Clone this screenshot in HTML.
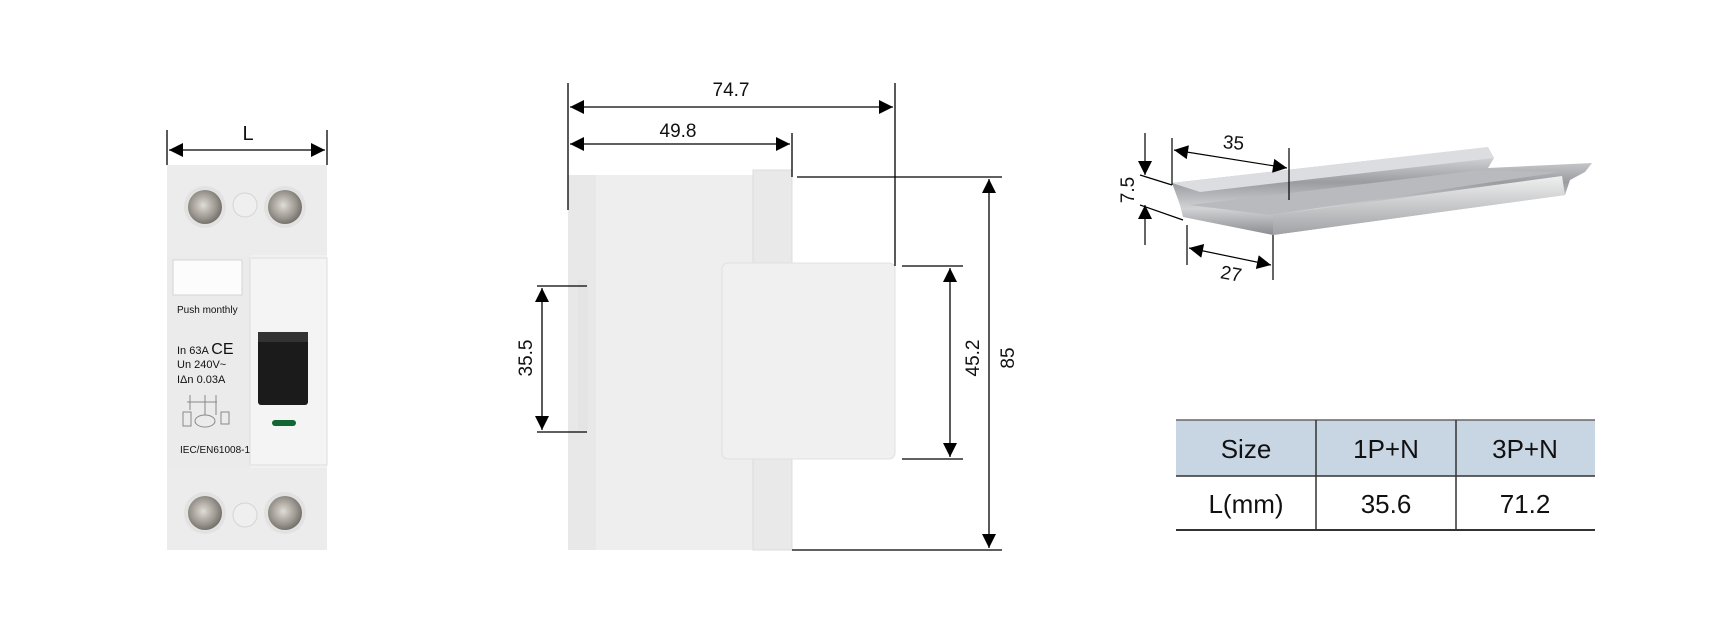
<!DOCTYPE html>
<html><head><meta charset="utf-8"><style>
html,body{margin:0;padding:0;background:#fff;}
svg{display:block;}
text{font-family:"Liberation Sans",Arial,sans-serif;fill:#111;}
</style></head><body>
<svg width="1736" height="633" viewBox="0 0 1736 633" xmlns="http://www.w3.org/2000/svg">
<defs>
<marker id="ar" viewBox="0 0 10 10" refX="10" refY="5" markerWidth="22" markerHeight="14" markerUnits="userSpaceOnUse" orient="auto-start-reverse"><path d="M0,0 L10,5 L0,10 z" fill="#000"/></marker>
<radialGradient id="scr" cx="0.45" cy="0.45" r="0.7"><stop offset="0" stop-color="#e0dcd6"/><stop offset="0.55" stop-color="#9a958e"/><stop offset="1" stop-color="#55524e"/></radialGradient>
<linearGradient id="silver" x1="0" y1="0" x2="0" y2="1"><stop offset="0" stop-color="#e8e8ea"/><stop offset="0.4" stop-color="#9a9ca0"/><stop offset="0.7" stop-color="#d0d2d4"/><stop offset="1" stop-color="#8a8c90"/></linearGradient>
<linearGradient id="silver2" x1="0" y1="0" x2="0" y2="1"><stop offset="0" stop-color="#f0f0f0"/><stop offset="0.5" stop-color="#c8c9cb"/><stop offset="1" stop-color="#a0a2a5"/></linearGradient>
</defs>

<!-- Breaker front -->
<g stroke="#000" stroke-width="1.3">
<line x1="167" y1="130" x2="167" y2="165"/><line x1="327" y1="130" x2="327" y2="165"/>
<line x1="169" y1="150" x2="325" y2="150" marker-start="url(#ar)" marker-end="url(#ar)"/>
</g>
<text x="248" y="140" font-size="20" text-anchor="middle">L</text>
<rect x="167" y="165" width="160" height="385" fill="#f1f1f1"/>
<rect x="167" y="165" width="160" height="90" fill="#ececec"/>
<rect x="167" y="468" width="160" height="82" fill="#ececec"/>
<rect x="167" y="255" width="83" height="213" fill="#ebebeb"/>
<rect x="250" y="258" width="77" height="207" fill="#f4f4f4" stroke="#dedede"/>
<rect x="173" y="260" width="69" height="35" fill="#fcfcfc" stroke="#d4d4d4"/>
<circle cx="205" cy="207" r="21" fill="#e2e2e2"/><circle cx="205" cy="207" r="17" fill="url(#scr)"/>
<circle cx="285" cy="207" r="21" fill="#e2e2e2"/><circle cx="285" cy="207" r="17" fill="url(#scr)"/>
<circle cx="245" cy="205" r="12" fill="#efefef" stroke="#d4d4d4"/>
<circle cx="205" cy="513" r="21" fill="#e2e2e2"/><circle cx="205" cy="513" r="17" fill="url(#scr)"/>
<circle cx="285" cy="513" r="21" fill="#e2e2e2"/><circle cx="285" cy="513" r="17" fill="url(#scr)"/>
<circle cx="245" cy="515" r="12" fill="#efefef" stroke="#d4d4d4"/>
<rect x="258" y="332" width="50" height="73" rx="3" fill="#1b1b1b"/>
<rect x="258" y="332" width="50" height="10" fill="#333"/>
<rect x="272" y="420" width="24" height="6" rx="3" fill="#163"/>
<text x="177" y="313" font-size="10" fill="#777">Push  monthly</text>
<text x="177" y="354" font-size="11" fill="#666">In 63A <tspan font-size="16">CE</tspan></text>
<text x="177" y="368" font-size="11" fill="#666">Un 240V~</text>
<text x="177" y="383" font-size="11" fill="#666">IΔn 0.03A</text>
<g stroke="#888" fill="none" stroke-width="1"><rect x="183" y="412" width="8" height="14"/><ellipse cx="205" cy="421" rx="10" ry="6"/><rect x="221" y="412" width="8" height="12"/><path d="M190,395 v15 M205,395 v20 M216,395 v20 M187,402 h30"/></g>
<text x="180" y="453" font-size="10" fill="#666">IEC/EN61008-1</text>

<!-- Side view -->
<rect x="568" y="175" width="224" height="375" fill="#eeeeee"/>
<rect x="568" y="175" width="28" height="375" fill="#e8e8e8"/>
<rect x="753" y="170" width="39" height="380" fill="#e9e9e9" stroke="#dcdcdc"/>
<rect x="722" y="263" width="173" height="196" rx="6" fill="#f0f0f0" stroke="#e0e0e0"/>
<rect x="578" y="280" width="10" height="150" fill="#e4e4e4"/>
<g stroke="#000" stroke-width="1.3">
<line x1="568" y1="83" x2="568" y2="210"/>
<line x1="792" y1="133" x2="792" y2="177"/>
<line x1="895" y1="83" x2="895" y2="266"/>
<line x1="570" y1="107" x2="893" y2="107" marker-start="url(#ar)" marker-end="url(#ar)"/>
<line x1="570" y1="144" x2="790" y2="144" marker-start="url(#ar)" marker-end="url(#ar)"/>
<line x1="797" y1="177" x2="1002" y2="177"/><line x1="792" y1="550" x2="1002" y2="550"/>
<line x1="989" y1="179" x2="989" y2="548" marker-start="url(#ar)" marker-end="url(#ar)"/>
<line x1="902" y1="266" x2="963" y2="266"/><line x1="902" y1="459" x2="963" y2="459"/>
<line x1="950" y1="268" x2="950" y2="457" marker-start="url(#ar)" marker-end="url(#ar)"/>
<line x1="537" y1="286" x2="587" y2="286"/><line x1="537" y1="432" x2="587" y2="432"/>
<line x1="542" y1="288" x2="542" y2="430" marker-start="url(#ar)" marker-end="url(#ar)"/>
</g>
<text x="731" y="96" font-size="19" text-anchor="middle">74.7</text>
<text x="678" y="137" font-size="19" text-anchor="middle">49.8</text>
<text transform="translate(1014,358) rotate(-90)" font-size="19" text-anchor="middle">85</text>
<text transform="translate(979,358) rotate(-90)" font-size="19" text-anchor="middle">45.2</text>
<text transform="translate(532,358) rotate(-90)" font-size="19" text-anchor="middle">35.5</text>

<!-- DIN rail -->
<polygon points="1172,183 1488,147 1494,158 1488,168 1592,163 1585,172 1570,180 1565,195 1273,235 1183,217 1180,205" fill="url(#silver)"/>
<polygon points="1190,205 1480,170 1560,172 1270,215" fill="#b8babd"/>
<polygon points="1273,215 1562,176 1565,195 1273,235" fill="url(#silver2)"/>
<polygon points="1172,183 1488,147 1494,158 1200,192" fill="#dcdde0"/>
<g stroke="#000" stroke-width="1.2">
<line x1="1172" y1="138" x2="1172" y2="185"/><line x1="1289" y1="148" x2="1289" y2="200"/>
<line x1="1174" y1="150" x2="1287" y2="168" marker-start="url(#ar)" marker-end="url(#ar)"/>
<line x1="1187" y1="225" x2="1187" y2="265"/><line x1="1273" y1="235" x2="1273" y2="280"/>
<line x1="1189" y1="248" x2="1271" y2="265" marker-start="url(#ar)" marker-end="url(#ar)"/>
<line x1="1140" y1="175" x2="1172" y2="185"/><line x1="1140" y1="205" x2="1183" y2="220"/>
<line x1="1145" y1="133" x2="1145" y2="175" marker-end="url(#ar)"/>
<line x1="1145" y1="245" x2="1145" y2="205" marker-end="url(#ar)"/>
</g>
<text transform="translate(1233,149) rotate(5)" font-size="19" text-anchor="middle">35</text>
<text transform="translate(1230,280) rotate(10)" font-size="19" text-anchor="middle">27</text>
<text transform="translate(1134,190) rotate(-90)" font-size="19" text-anchor="middle">7.5</text>

<!-- Table -->
<rect x="1176" y="420" width="419" height="56" fill="#c8d5e3"/>
<g stroke="#333" stroke-width="1.5">
<line x1="1176" y1="420" x2="1595" y2="420" stroke="#666"/>
<line x1="1176" y1="476" x2="1595" y2="476"/>
<line x1="1176" y1="530" x2="1595" y2="530" stroke-width="2"/>
<line x1="1316" y1="420" x2="1316" y2="530"/>
<line x1="1456" y1="420" x2="1456" y2="530"/>
</g>
<g font-size="26" text-anchor="middle">
<text x="1246" y="458">Size</text><text x="1386" y="458">1P+N</text><text x="1525" y="458">3P+N</text>
<text x="1246" y="513">L(mm)</text><text x="1386" y="513">35.6</text><text x="1525" y="513">71.2</text>
</g>
</svg>
</body></html>
